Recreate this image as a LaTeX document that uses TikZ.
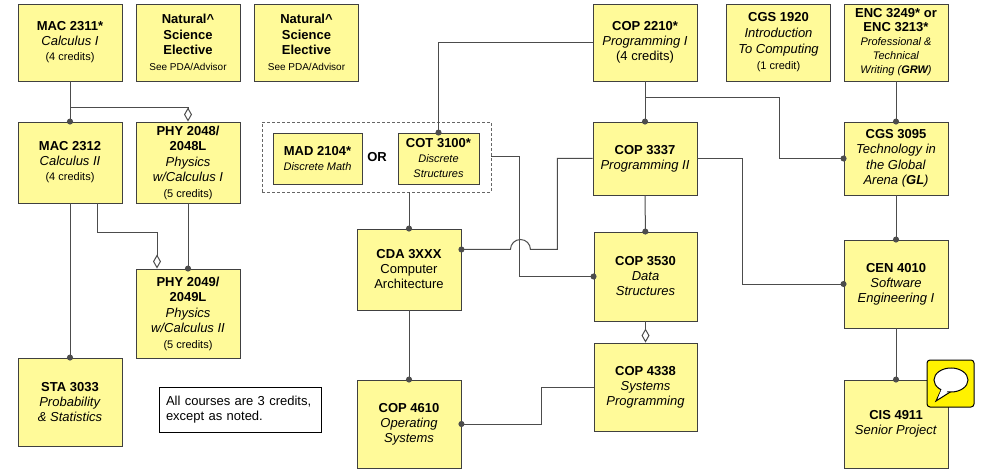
\documentclass[tikz,border=0pt]{standalone}
\usepackage{fontspec}
\setmainfont{Liberation Sans}
\usetikzlibrary{arrows.meta, positioning, shapes, calc}

\newcommand{\crd}[1]{{\fontsize{11}{14}\selectfont #1}}
\newcommand{\hint}[1]{{\fontsize{10}{13}\selectfont #1}}

\begin{document}
\begin{tikzpicture}[x=1pt, y=-1pt,
    course/.style={rectangle, draw=black!75, fill=yellow!40, line width=0.9pt, minimum width=104pt, inner sep=0pt, align=center, font=\fontsize{13}{15}\selectfont},
    group/.style={rectangle, draw=black!60, line width=0.8pt, dash pattern=on 3pt off 2pt, minimum width=229pt, minimum height=70pt},
    note/.style={rectangle, draw=black, fill=white, line width=0.8pt, minimum width=162pt, minimum height=45pt, text width=148pt, align=left, font=\fontsize{13}{15.5}\selectfont},
    link/.style={draw=black!70, line width=1pt},
    pre/.style={-{Circle[length=6pt, width=6pt]}, shorten >=-3pt},
    prefrom/.style={{Circle[length=6pt, width=6pt]}-, shorten <=-3pt},
    coreq/.style={-{Diamond[open, length=14pt, width=8pt]}}
]
\useasboundingbox (0,0) rectangle (982,470);

% First year
\node[course, minimum height=77pt] (mac2311) at (70,42.5) {\textbf{MAC 2311*}\\\textit{Calculus I}\\\crd{(4 credits)}};
\node[course, minimum height=77pt, font=\fontsize{13}{15.5}\selectfont] (natA) at (188,42.5) {\textbf{Natural\textasciicircum}\\\textbf{Science}\\\textbf{Elective}\\\hint{See PDA/Advisor}};
\node[course, minimum height=77pt, font=\fontsize{13}{15.5}\selectfont] (natB) at (306.5,42.5) {\textbf{Natural\textasciicircum}\\\textbf{Science}\\\textbf{Elective}\\\hint{See PDA/Advisor}};
\node[course, minimum height=77pt] (cop2210) at (645,42.5) {\textbf{COP 2210*}\\\textit{Programming I}\\(4 credits)};
\node[course, minimum height=77pt, font=\fontsize{13}{16}\selectfont] (cgs1920) at (778.5,42.5) {\textbf{CGS 1920}\\\textit{Introduction}\\\textit{To Computing}\\\crd{(1 credit)}};
\node[course, minimum height=77pt, font=\fontsize{13}{14}\selectfont] (enc) at (896,42.5) {\textbf{ENC 3249* or}\\\textbf{ENC 3213*}\\\crd{\textit{Professional \&}}\\\crd{\textit{Technical}}\\\crd{\textit{Writing (\textbf{GRW})}}};

% Second row
\node[course, minimum height=81pt] (mac2312) at (70,162.5) {\textbf{MAC 2312}\\\textit{Calculus II}\\\crd{(4 credits)}};
\node[course, minimum height=81pt, font=\fontsize{13}{15.5}\selectfont] (phy2048) at (188,162.5) {\textbf{PHY 2048/}\\\textbf{2048L}\\\textit{Physics}\\\textit{w/Calculus I}\\\crd{(5 credits)}};
\node[group] (either) at (376.5,157) {};
\node[course, minimum width=89pt, minimum height=51pt] (mad2104) at (317.5,158.5) {\textbf{MAD 2104*}\\\crd{\textit{Discrete Math}}};
\node[font=\fontsize{13}{15}\selectfont\bfseries] (or) at (377,157) {OR};
\node[course, minimum width=81pt, minimum height=51pt] (cot3100) at (438.5,158.5) {\textbf{COT 3100*}\\\crd{\textit{Discrete}}\\\crd{\textit{Structures}}};
\node[course, minimum height=73pt] (cop3337) at (645,158.5) {\textbf{COP 3337}\\\textit{Programming II}};
\node[course, minimum height=73pt, font=\fontsize{13}{15.5}\selectfont] (cgs3095) at (896,158.5) {\textbf{CGS 3095}\\\textit{Technology in}\\\textit{the Global}\\\textit{Arena (\textbf{GL})}};

% Third row
\node[course, minimum height=81pt] (cda) at (409,269.5) {\textbf{CDA 3XXX}\\Computer\\Architecture};
\node[course, minimum width=103pt, minimum height=89pt] (cop3530) at (645.5,276.5) {\textbf{COP 3530}\\\textit{Data}\\\textit{Structures}};
\node[course, minimum height=88pt] (cen4010) at (896,284) {\textbf{CEN 4010}\\\textit{Software}\\\textit{Engineering I}};
\node[course, minimum height=89pt, font=\fontsize{13}{15.5}\selectfont] (phy2049) at (188,313.5) {\textbf{PHY 2049/}\\\textbf{2049L}\\\textit{Physics}\\\textit{w/Calculus II}\\\crd{(5 credits)}};

% Last row
\node[course, minimum height=88pt] (sta3033) at (70,402) {\textbf{STA 3033}\\\textit{Probability}\\\textit{\& Statistics}};
\node[note] (remark) at (240,409.5) {All courses are 3 credits, except as noted.};
\node[course, minimum height=88pt] (cop4610) at (409,424) {\textbf{COP 4610}\\\textit{Operating}\\\textit{Systems}};
\node[course, minimum width=103pt, minimum height=88pt] (cop4338) at (645.5,387) {\textbf{COP 4338}\\\textit{Systems}\\\textit{Programming}};
\node[course, minimum height=88pt] (cis4911) at (896,424) {\textbf{CIS 4911}\\\textit{Senior Project}};

% Comment icon
\node[rectangle, rounded corners=3pt, draw=black, fill=yellow, line width=1pt, minimum width=47pt, minimum height=47pt] (bubble) at (950.5,383.5) {};
\draw[black, fill=white, line width=1pt] (942,388) -- (936,401) -- (951,391.5) -- cycle;
\draw[black, fill=white, line width=1pt] (951,380) ellipse [x radius=17pt, y radius=12pt];
\fill[white] (942.5,387) -- (938,398) -- (950,389.5) -- cycle;

% Connections
\draw[link, pre] (mac2311) -- (mac2312);
\draw[link, coreq] (mac2311.south) ++(0,26) -| (phy2048.north);
\draw[link, pre] (mac2312) -- (sta3033);
\draw[link, coreq] ([xshift=27pt]mac2312.south) -- ++(0,29.5) -| ([xshift=-31pt]phy2049.north);
\draw[link, pre] (phy2048) -- (phy2049);

\draw[link, prefrom] (cot3100.north) |- (cop2210.west);
\draw[link, pre] (either.south -| cda.north) -- (cda.north);
\draw[link, pre] (either.east) -- ++(28,0) |- (cop3530.west);
\draw[link, prefrom] ([yshift=20pt]cda.east) -- ++(49,0) arc[start angle=180, end angle=0, radius=10pt] -- ++(27,0) |- (cop3337.west);
\draw[link, pre] (cda) -- (cop4610);
\draw[link, pre] (cop4338.west) -- ++(-52,0) |- (cop4610.east);

\draw[link, pre] (cop2210) -- (cop3337);
\draw[link, pre] (cop2210.south) ++(0,16) -- ++(134,0) |- (cgs3095.west);
\draw[link, pre] (cop3337.east) -- ++(45,0) |- (cen4010.west);
\draw[link, pre] (cop3337) -- (cop3530);
\draw[link, coreq] (cop3530) -- (cop4338);

\draw[link, pre] (enc) -- (cgs3095);
\draw[link, pre] (cgs3095) -- (cen4010);
\draw[link, pre] (cen4010) -- (cis4911);

\end{tikzpicture}
\end{document}
